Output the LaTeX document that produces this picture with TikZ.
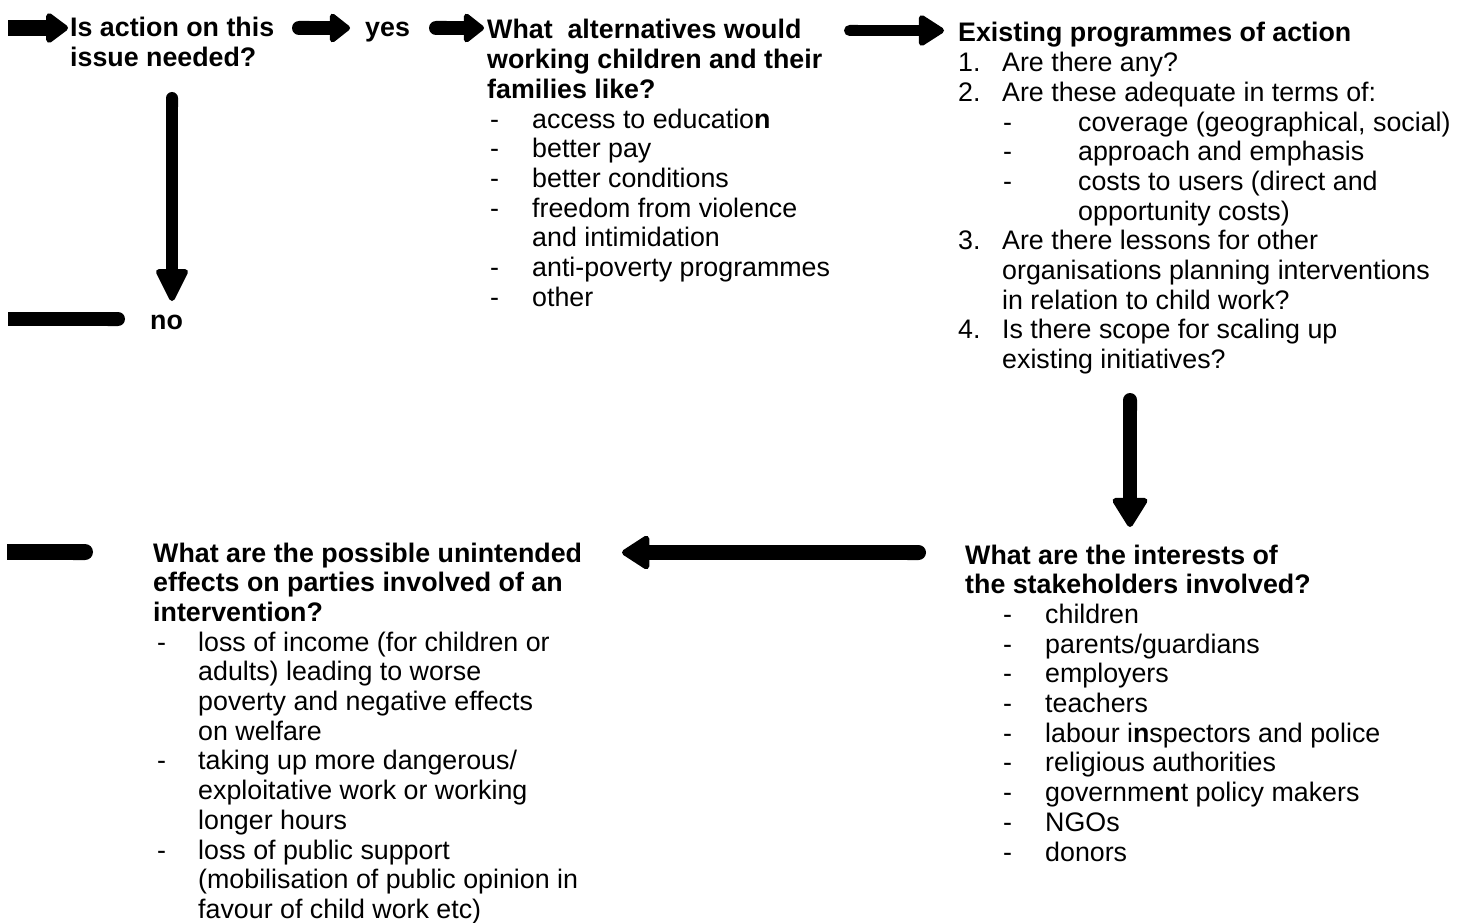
\documentclass[tikz,border=0pt]{standalone}
\usepackage{fontspec}
\setmainfont{Liberation Sans}
\usetikzlibrary{arrows.meta}
\setlength{\tabcolsep}{0pt}
\renewcommand{\arraystretch}{1}
\tikzset{
  txt/.style={inner sep=0pt, anchor=base west, font=\fontsize{26.8}{29.7}\selectfont},
  head/.style={txt, font=\fontsize{26.8}{29.7}\selectfont\bfseries},
  fatarrow/.style n args={3}{line width=#1, line cap=butt,
     {Round Cap[]}-{Triangle[round, line width=6pt, width=#2, length=#3]}},
  flatarrow/.style n args={3}{line width=#1, line cap=butt,
     -{Triangle[round, line width=6pt, width=#2, length=#3]}},
  fatbar/.style={line width=#1, line cap=butt, -{Round Cap[]}},
}
\begin{document}
\begin{tikzpicture}[x=1pt,y=-1pt]
\useasboundingbox (0,0) rectangle (1467,923);

% text blocks
\node[head] (A) at (70,37) {\begin{tabular}[t]{@{}l@{}}Is action on this\\ issue needed?\end{tabular}};
\node[head] (yes) at (365,37) {yes};
\node[head] (no) at (150,329) {no};

\node[txt] (B) at (487,39) {\begin{tabular}[t]{@{}p{45pt}@{}l@{}}
\multicolumn{2}{@{}l@{}}{\bfseries What\ \ alternatives would}\\
\multicolumn{2}{@{}l@{}}{\bfseries working children and their}\\
\multicolumn{2}{@{}l@{}}{\bfseries families like?}\\
\hspace{3pt}- & access to educatio\textbf{n}\\
\hspace{3pt}- & better pay\\
\hspace{3pt}- & better conditions\\
\hspace{3pt}- & freedom from violence\\
 & and intimidation\\
\hspace{3pt}- & anti-poverty programmes\\
\hspace{3pt}- & other
\end{tabular}};

\node[txt] (C) at (958,42) {\begin{tabular}[t]{@{}p{44pt}@{}p{76pt}@{}l@{}}
\multicolumn{3}{@{}l@{}}{\bfseries Existing programmes of action}\\
1. & \multicolumn{2}{@{}l@{}}{Are there any?}\\
2. & \multicolumn{2}{@{}l@{}}{Are these adequate in terms of:}\\
 & \hspace{1pt}- & coverage (geographical, social)\\
 & \hspace{1pt}- & approach and emphasis\\
 & \hspace{1pt}- & costs to users (direct and\\
 & & opportunity costs)\\
3. & \multicolumn{2}{@{}l@{}}{Are there lessons for other}\\
 & \multicolumn{2}{@{}l@{}}{organisations planning interventions}\\
 & \multicolumn{2}{@{}l@{}}{in relation to child work?}\\
4. & \multicolumn{2}{@{}l@{}}{Is there scope for scaling up}\\
 & \multicolumn{2}{@{}l@{}}{existing initiatives?}
\end{tabular}};

\node[txt] (D) at (965,564) {\begin{tabular}[t]{@{}p{80pt}@{}l@{}}
\multicolumn{2}{@{}l@{}}{\bfseries What are the interests of}\\
\multicolumn{2}{@{}l@{}}{\bfseries the stakeholders involved?}\\
\hspace{38pt}- & children\\
\hspace{38pt}- & parents/guardians\\
\hspace{38pt}- & employers\\
\hspace{38pt}- & teachers\\
\hspace{38pt}- & labour i\textbf{n}spectors and police\\
\hspace{38pt}- & religious authorities\\
\hspace{38pt}- & governme\textbf{n}t policy makers\\
\hspace{38pt}- & NGOs\\
\hspace{38pt}- & donors
\end{tabular}};

\node[txt] (E) at (153,562) {\begin{tabular}[t]{@{}p{45pt}@{}l@{}}
\multicolumn{2}{@{}l@{}}{\bfseries What are the possible unintended}\\
\multicolumn{2}{@{}l@{}}{\bfseries effects on parties involved of an}\\
\multicolumn{2}{@{}l@{}}{\bfseries intervention?}\\
\hspace{4pt}- & loss of income (for children or\\
 & adults) leading to worse\\
 & poverty and negative effects\\
 & on welfare\\
\hspace{4pt}- & taking up more dangerous/\\
 & exploitative work or working\\
 & longer hours\\
\hspace{4pt}- & loss of public support\\
 & (mobilisation of public opinion in\\
 & favour of child work etc)
\end{tabular}};

% free ends
\coordinate (in1) at (8,28);
\coordinate (nobar) at (8,319);
\coordinate (botbar) at (7,552);

% connectors
\draw[flatarrow={16pt}{34pt}{24pt}] (in1) -- ([shift={(-2,-9)}]A.base west);
\draw[fatarrow={14pt}{33pt}{22pt}] ([shift={(222,-9)}]A.base west) -- ([shift={(-15,-9)}]yes.base west);
\draw[fatarrow={14pt}{33pt}{22pt}] ([shift={(64,-9)}]yes.base west) -- ([shift={(-3,-11)}]B.base west);
\draw[fatarrow={11pt}{34pt}{28pt}] ([shift={(357,-8.5)}]B.base west) -- ([shift={(-14,-11.5)}]C.base west);
\draw[fatarrow={12pt}{34pt}{36pt}] ([shift={(102,55)}]A.base west) -- ([shift={(22,-28)}]no.base west);
\draw[fatbar=14pt] (nobar) -- ([shift={(-25,-10)}]no.base west);
\draw[fatarrow={14pt}{38pt}{32pt}] ([shift={(172,351)}]C.base west) -- ([shift={(165,-37)}]D.base west);
\draw[fatarrow={15pt}{37pt}{30pt}] ([shift={(-39,-11.5)}]D.base west) -- ([shift={(469,-9.5)}]E.base west);
\draw[fatbar=16pt] (botbar) -- ([shift={(-60,-10)}]E.base west);
\end{tikzpicture}
\end{document}
